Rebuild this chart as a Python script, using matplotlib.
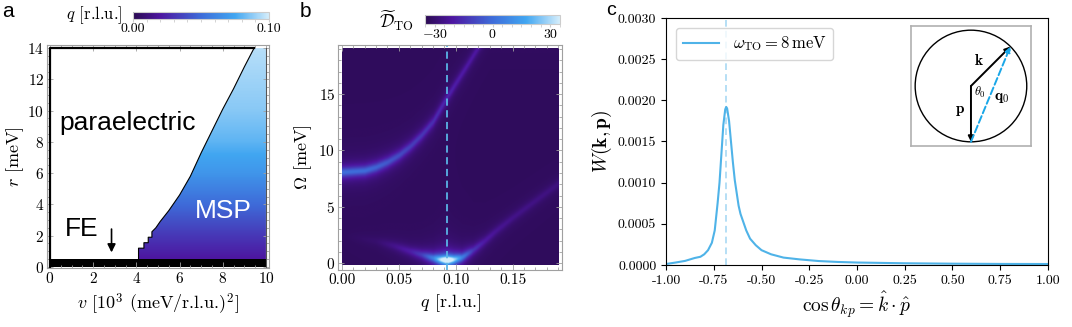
import numpy as np
import matplotlib
matplotlib.use('Agg')
import matplotlib.pyplot as plt
from matplotlib.colors import LinearSegmentedColormap
from matplotlib.patches import Polygon, Circle
from matplotlib.ticker import MultipleLocator, FormatStrFormatter

plt.rcParams['font.family'] = ['cmr10', 'DejaVu Serif']
plt.rcParams['mathtext.fontset'] = 'cm'
plt.rcParams['axes.formatter.use_mathtext'] = True
plt.rcParams['axes.unicode_minus'] = True

# ---- panel a: phase diagram ----
# boundary between paraelectric and MSP (v in 10^3 (meV/r.l.u.)^2, r in meV)
bound_v = [4.1, 4.1, 4.35, 4.35, 4.55, 4.55, 4.72, 4.72, 4.9, 5.1, 5.5, 6.0, 6.5, 7.0, 7.5, 8.0, 8.5, 9.0, 9.45]
bound_r = [0.5, 1.2, 1.2, 1.55, 1.55, 1.9, 1.9, 2.25, 2.5, 2.9, 3.6, 4.6, 5.8, 7.3, 8.7, 10.1, 11.4, 12.8, 14.0]
msp_r = [0.5, 2.0, 4.0, 6.0, 8.0, 10.0, 12.0, 14.0]
msp_q = [0.02, 0.032, 0.05, 0.068, 0.08, 0.087, 0.091, 0.095]

# ---- panel b: spectral function branches ----
upper_q = [0.0, 0.02, 0.03, 0.04, 0.05, 0.06, 0.07, 0.08, 0.092, 0.10, 0.11, 0.121, 0.13]
upper_w = [8.0, 8.15, 8.45, 8.9, 9.5, 10.3, 11.3, 12.5, 14.6, 15.9, 17.5, 19.3, 20.8]
upper_amp = [34, 33, 31, 28, 25, 22, 20, 18, 16, 14, 13, 12, 12]
lower_q = [0.0, 0.03, 0.045, 0.06, 0.07, 0.08, 0.086, 0.092, 0.098, 0.105, 0.115, 0.125, 0.135, 0.15, 0.17, 0.19]
lower_w = [2.4, 1.9, 1.5, 1.0, 0.7, 0.4, 0.28, 0.22, 0.28, 0.45, 1.1, 1.9, 2.8, 4.0, 5.5, 7.0]
lower_amp = [0, 3, 8, 14, 22, 40, 65, 90, 65, 40, 20, 13, 10, 8, 7, 6]
q0 = 0.092

# ---- panel c: W(k,p) ----
cos_kp = [-1.0, -0.95, -0.90, -0.85, -0.82, -0.80, -0.78, -0.76, -0.745, -0.73, -0.72, -0.71,
          -0.70, -0.69, -0.685, -0.68, -0.67, -0.66, -0.65, -0.64, -0.62, -0.61, -0.58, -0.56,
          -0.53, -0.50, -0.45, -0.385, -0.30, -0.26, -0.20, -0.10, 0.0, 0.25, 0.5, 0.75, 1.0]
W_kp = [0.000012, 0.00003, 0.00005, 0.000085, 0.0001, 0.00013, 0.00018, 0.00027, 0.00042, 0.00075,
        0.00100, 0.00135, 0.00170, 0.00189, 0.00192, 0.00190, 0.00175, 0.00150, 0.00125, 0.00103,
        0.00072, 0.00062, 0.00042, 0.00032, 0.00024, 0.00018, 0.00013, 0.00009, 0.000068, 0.00006,
        0.000048, 0.000037, 0.00003, 0.000021, 0.000016, 0.000013, 0.000012]

cmap = LinearSegmentedColormap.from_list(
    'pb', [(0.0, '#2b0b52'), (0.2, '#4d16a0'), (0.5, '#3e6cd9'), (0.75, '#41a6f1'), (1.0, '#d4edfb')])

fig = plt.figure(figsize=(10.72, 3.27), dpi=100)
gray = '#a0a0a0'


def mathematica_frame(ax):
    for s in ax.spines.values():
        s.set_color(gray)
        s.set_linewidth(0.8)
    ax.tick_params(which='both', direction='in', color=gray, top=True, right=True,
                   labelsize=11, width=0.6, pad=2)
    ax.tick_params(which='major', length=4)
    ax.tick_params(which='minor', length=2)


# ================= panel a =================
axa = fig.add_axes([0.0438, 0.1789, 0.2071, 0.6835])
vv = np.linspace(0, 10, 300)
rr = np.linspace(0.5, 14, 300)
qfield = np.tile(np.interp(rr, msp_r, msp_q)[:, None], (1, len(vv)))
im_a = axa.imshow(qfield, origin='lower', extent=[0, 10, 0.5, 14], aspect='auto',
                  cmap=cmap, vmin=0, vmax=0.1, interpolation='bilinear')
poly = Polygon(list(zip(bound_v, bound_r)) + [(10, 14), (10, 0.5)], closed=True,
               transform=axa.transData, facecolor='none', edgecolor='none')
axa.add_patch(poly)
im_a.set_clip_path(poly)
axa.fill_between([0, 10], 0, 0.5, color='black', lw=0)
axa.plot(bound_v, bound_r, color='black', lw=0.8)
axa.plot([0, 0, 9.45], [0, 14, 14], color='black', lw=1.6)
axa.plot([10, 10], [0, 14], color='#555555', lw=0.8)
axa.set_xlim(-0.14, 10.14)
axa.set_ylim(-0.1, 14.2)
axa.xaxis.set_major_locator(MultipleLocator(2))
axa.xaxis.set_minor_locator(MultipleLocator(0.5))
axa.yaxis.set_major_locator(MultipleLocator(2))
axa.yaxis.set_minor_locator(MultipleLocator(0.5))
mathematica_frame(axa)
axa.set_xlabel(r'$v$ [10$^3$ (meV/r.l.u.)$^2$]', fontsize=13, labelpad=4)
axa.set_ylabel(r'$r$ [meV]', fontsize=13, labelpad=1)
axa.text(0.45, 9.2, 'paraelectric', family='Liberation Sans', fontsize=19, va='center')
axa.text(0.7, 2.4, 'FE', family='Liberation Sans', fontsize=19, va='center')
axa.text(6.7, 3.6, 'MSP', family='Liberation Sans', fontsize=19, va='center', color='white')
axa.annotate('', xy=(2.85, 0.75), xytext=(2.85, 2.6),
             arrowprops=dict(arrowstyle='-|>', color='black', lw=1.2, mutation_scale=12))

cba = fig.add_axes([0.1241, 0.9419, 0.1269, 0.0214])
cb1 = fig.colorbar(im_a, cax=cba, orientation='horizontal')
cb1.set_ticks([0.0, 0.1])
cb1.ax.xaxis.set_major_formatter(FormatStrFormatter('%.2f'))
cb1.ax.xaxis.set_minor_locator(MultipleLocator(0.01))
cb1.outline.set_edgecolor('#cccccc')
cb1.ax.tick_params(which='both', color='#cccccc', labelsize=10, length=2, pad=1)
fig.text(0.114, 0.955, r'$q$ [r.l.u.]', fontsize=12, ha='right', va='center')

# ================= panel b =================
axb = fig.add_axes([0.3153, 0.1743, 0.209, 0.688])
qq = np.linspace(0, 0.19, 400)
ww = np.linspace(-0.18, 19.0, 400)
QQ, WW = np.meshgrid(qq, ww)
D = np.full_like(QQ, -33.0)
for bq, bw, ba, g in [(upper_q, upper_w, upper_amp, 0.45), (lower_q, lower_w, lower_amp, 0.4)]:
    wc = np.interp(qq, bq, bw)[None, :]
    amp = np.interp(qq, bq, ba)[None, :]
    D = D + amp * g**2 / ((WW - wc)**2 + g**2)
D = np.clip(D, -35, 35)
im_b = axb.imshow(D, origin='lower', extent=[0, 0.19, -0.18, 19.0], aspect='auto',
                  cmap=cmap, vmin=-35, vmax=35, interpolation='bilinear')
axb.axvline(q0, color='#5ab4e6', lw=1.3, ls=(0, (4, 2.5)))
axb.set_xlim(-0.0035, 0.1935)
axb.set_ylim(-0.6, 19.35)
axb.set_xticks([0, 0.05, 0.1, 0.15])
axb.xaxis.set_major_formatter(FormatStrFormatter('%.2f'))
axb.xaxis.set_minor_locator(MultipleLocator(0.01))
axb.set_yticks([0, 5, 10, 15])
axb.yaxis.set_minor_locator(MultipleLocator(1))
mathematica_frame(axb)
axb.set_xlabel(r'$q$ [r.l.u.]', fontsize=13, labelpad=4)
axb.set_ylabel(r'$\Omega$ [meV]', fontsize=13, labelpad=3)

cbb = fig.add_axes([0.3965, 0.9266, 0.1259, 0.0275])
cb2 = fig.colorbar(im_b, cax=cbb, orientation='horizontal')
cb2.set_ticks([-30, 0, 30])
cb2.ax.xaxis.set_minor_locator(MultipleLocator(5))
cb2.outline.set_edgecolor('#cccccc')
cb2.ax.tick_params(which='both', color='#cccccc', labelsize=10, length=2, pad=1)
fig.text(0.386, 0.935, r'$\widetilde{\mathcal{D}}_{\mathrm{TO}}$', fontsize=13, ha='right', va='center')

# ================= panel c =================
axc = fig.add_axes([0.6213, 0.1896, 0.3563, 0.7554])
lc = '#4fb3e8'
axc.axvline(-0.685, color='#a9d9f3', lw=1.2, ls=(0, (4, 2.5)))
axc.plot(cos_kp, W_kp, color=lc, lw=1.5, label=r'$\omega_{\mathrm{TO}} = 8\,\mathrm{meV}$')
axc.set_xlim(-1, 1)
axc.set_ylim(0, 0.003)
axc.xaxis.set_major_locator(MultipleLocator(0.25))
axc.xaxis.set_major_formatter(FormatStrFormatter('%.2f'))
axc.yaxis.set_major_locator(MultipleLocator(0.0005))
axc.yaxis.set_major_formatter(FormatStrFormatter('%.4f'))
axc.tick_params(labelsize=10, length=3.5)
axc.set_xlabel(r'$\cos\theta_{kp} = \hat{k}\cdot\hat{p}$', fontsize=14, labelpad=2)
axc.set_ylabel(r'$W(\mathbf{k},\mathbf{p})$', fontsize=14, labelpad=3)
axc.legend(loc='upper left', fontsize=12, handlelength=2.2, borderaxespad=0.6, fancybox=True)

# inset sketch
axi = fig.add_axes([0.8498, 0.5535, 0.1119, 0.367])
axi.set_xlim(-1.075, 1.075)
axi.set_ylim(-1.075, 1.075)
axi.set_xticks([])
axi.set_yticks([])
for s in axi.spines.values():
    s.set_color('#b0b0b0')
    s.set_linewidth(1.2)
axi.add_patch(Circle((0, 0), 1.0, fill=False, color='black', lw=1.0))
axi.annotate('', xy=(0.707, 0.707), xytext=(0, 0),
             arrowprops=dict(arrowstyle='-|>', color='black', lw=1.4, mutation_scale=8, shrinkA=0, shrinkB=0))
axi.annotate('', xy=(0, -1.0), xytext=(0, 0),
             arrowprops=dict(arrowstyle='-|>', color='black', lw=1.4, mutation_scale=8, shrinkA=0, shrinkB=0))
axi.annotate('', xy=(0.707, 0.707), xytext=(0, -1.0),
             arrowprops=dict(arrowstyle='-|>', color='#1aa7e8', lw=1.4, ls='--', mutation_scale=8,
                             shrinkA=0, shrinkB=0))
axi.text(0.14, 0.45, r'$\mathbf{k}$', fontsize=11, ha='center', va='center')
axi.text(0.16, -0.11, r'$\theta_0$', fontsize=9, ha='center', va='center')
axi.text(0.55, -0.22, r'$\mathbf{q}_0$', fontsize=11, ha='center', va='center')
axi.text(-0.19, -0.45, r'$\mathbf{p}$', fontsize=11, ha='center', va='center')

# panel letters
fig.text(0.002, 0.965, 'a', family='Liberation Sans', fontsize=15, va='center')
fig.text(0.28, 0.965, 'b', family='Liberation Sans', fontsize=15, va='center')
fig.text(0.565, 0.968, 'c', family='Liberation Sans', fontsize=14, va='center')

fig.savefig('out.png', dpi=100)
